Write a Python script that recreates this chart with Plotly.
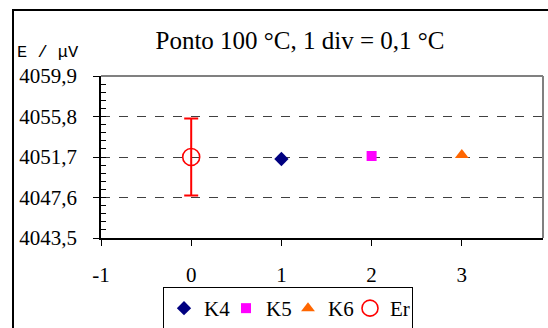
import plotly.graph_objects as go

# Data
k4_x = [1]
k4_y = [4051.5]
k5_x = [2]
k5_y = [4051.8]
k6_x = [3]
k6_y = [4051.9]
er_x = [0]
er_y = [4051.7]
er_err = [3.9]
y_ticks = [4043.5, 4047.6, 4051.7, 4055.8, 4059.9]
y_tick_labels = ["4043,5", "4047,6", "4051,7", "4055,8", "4059,9"]
x_ticks = [-1, 0, 1, 2, 3]
x_tick_labels = ["-1", "0", "1", "2", "3"]

serif = "Liberation Serif, Times New Roman, serif"

fig = go.Figure()
fig.add_trace(go.Scatter(x=k4_x, y=k4_y, mode="markers", name="K4",
                         marker=dict(symbol="diamond", size=11, color="#000080")))
fig.add_trace(go.Scatter(x=k5_x, y=k5_y, mode="markers", name="K5",
                         marker=dict(symbol="square", size=10, color="#FF00FF")))
fig.add_trace(go.Scatter(x=k6_x, y=k6_y, mode="markers", name="K6",
                         marker=dict(symbol="triangle-up", size=12, color="#FF6600")))
fig.add_trace(go.Scatter(x=er_x, y=er_y, mode="markers", name="Er",
                         marker=dict(symbol="circle-open", size=17, color="#FF0000",
                                     line=dict(width=1.6, color="#FF0000")),
                         error_y=dict(type="data", array=er_err, color="#FF0000",
                                      thickness=2, width=7)))

# outer frame
fig.add_shape(type="rect", xref="paper", yref="paper",
              x0=(13 - 101) / 442, x1=1.2, y0=-0.8, y1=1 + (76 - 10) / 162,
              line=dict(color="black", width=2), layer="below")
# plot border (top/right gray)
fig.add_shape(type="line", xref="paper", yref="paper", x0=0, x1=1, y0=1, y1=1,
              line=dict(color="#808080", width=2))
fig.add_shape(type="line", xref="paper", yref="paper", x0=1, x1=1, y0=0, y1=1,
              line=dict(color="#808080", width=2))

fig.add_annotation(text="E / μV", xref="paper", yref="paper",
                   x=(15 - 101) / 442, y=1 + (76 - 52) / 162,
                   xanchor="left", yanchor="middle", showarrow=False,
                   font=dict(family="Liberation Mono, DejaVu Sans Mono, monospace",
                             size=17, color="black"))

fig.update_layout(
    template="none",
    width=548, height=328,
    margin=dict(l=101, r=5, t=76, b=90, autoexpand=False),
    paper_bgcolor="white", plot_bgcolor="white",
    title=dict(text="Ponto 100 °C, 1 div = 0,1 °C", x=300 / 548, xanchor="center",
               y=1 - 40 / 328, yanchor="middle",
               font=dict(family=serif, size=25, color="black")),
    showlegend=True,
    legend=dict(orientation="h", xref="container", yref="container",
                x=163 / 548, y=1 - 287 / 328, xanchor="left", yanchor="top",
                bordercolor="black", borderwidth=1,
                font=dict(family=serif, size=21, color="black"),
                itemwidth=30, tracegroupgap=0, entrywidth=17),
    font=dict(family=serif, size=21, color="black"),
    hovermode=False,
)
fig.update_xaxes(range=[-1, 3.9], tickvals=x_ticks, ticktext=x_tick_labels,
                 ticks="outside", ticklen=6, automargin=False,
                 tickcolor="black", showline=True, linecolor="black", linewidth=1.5,
                 showgrid=False, zeroline=False, showspikes=False,
                 ticklabelstandoff=11,
                 tickfont=dict(family=serif, size=21, color="black"))
fig.update_yaxes(range=[4043.5, 4059.9], tickvals=y_ticks, ticktext=y_tick_labels,
                 ticks="outside", ticklen=6, tickcolor="black", showline=True,
                 automargin=False, showspikes=False,
                 linecolor="black", linewidth=1.5, zeroline=False,
                 showgrid=True, gridcolor="#404040", griddash="dash", gridwidth=1,
                 ticklabelstandoff=12,
                 minor=dict(dtick=0.82, tick0=4043.5, ticks="inside", ticklen=5,
                            tickcolor="black", showgrid=False),
                 tickfont=dict(family=serif, size=21, color="black"))

fig.write_html("out.html", config={"displayModeBar": False},
               post_script="document.body.style.margin='0';")
